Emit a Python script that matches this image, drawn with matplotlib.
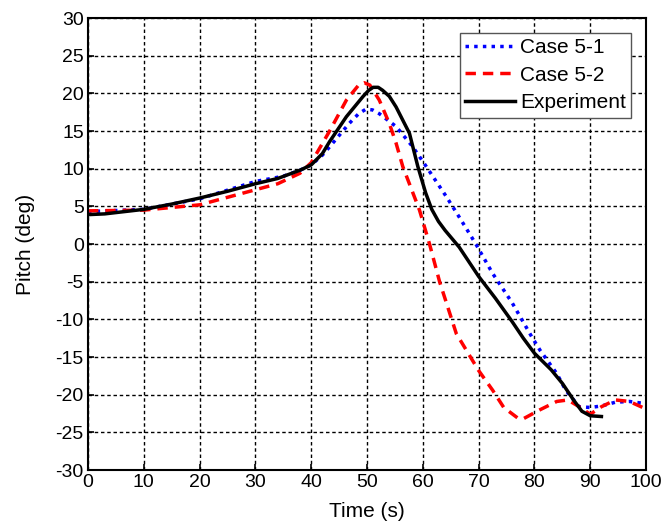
import matplotlib
matplotlib.use("Agg")
import matplotlib.pyplot as plt

plt.rcParams['font.family'] = ['Liberation Sans', 'DejaVu Sans']
plt.rcParams['axes.unicode_minus'] = False

# Experiment
exp_t = [0, 3, 10, 15, 20, 25, 30, 34, 38, 40, 42, 43.3, 46.3, 49.3, 50.3, 51.1, 52,
         52.8, 54, 55.2, 57.6, 59.1, 60.5, 61.6, 62.8, 64, 66.5, 70, 73, 76, 78, 80,
         83, 85, 87, 88.5, 90, 92]
exp_v = [3.9, 4.0, 4.6, 5.3, 6.1, 7.0, 8.0, 8.7, 9.8, 10.5, 12.0, 13.6, 16.9, 19.6,
         20.4, 20.8, 20.8, 20.4, 19.6, 18.2, 14.7, 10.3, 6.8, 4.6, 3.0, 1.8, -0.4,
         -4.3, -7.2, -10.3, -12.5, -14.5, -16.7, -18.5, -20.7, -22.2, -22.8, -22.9]

# Case 5-1
c1_t = [0, 10, 20, 30, 35, 38, 40, 42, 43.3, 46.8, 48.5, 49.8, 51, 52.2, 55.2, 58.2,
        60.6, 64.2, 66.5, 69.5, 72.5, 76, 79.5, 81, 84, 85.6, 88, 90, 92, 94.5, 97, 100]
c1_v = [4.3, 4.6, 6.0, 8.3, 9.0, 9.8, 10.5, 11.8, 12.9, 16.0, 17.3, 17.9, 17.8, 17.3,
        15.6, 12.9, 10.3, 6.3, 3.6, 0.0, -3.9, -7.8, -12.3, -14.1, -17.2, -19.4,
        -21.6, -21.7, -21.5, -21.0, -20.9, -21.2]

# Case 5-2
c2_t = [0, 10, 20, 30, 34, 38, 40, 43.3, 46.3, 48.5, 49.5, 50.5, 52.2, 54, 55.2, 56.4,
        59.4, 61.2, 63, 66, 70, 72.5, 74.5, 77, 78, 81, 84, 86, 88, 90, 92, 94.5, 97, 100]
c2_v = [4.4, 4.5, 5.2, 7.2, 8.0, 9.4, 10.8, 15.0, 19.1, 21.1, 21.4, 21.1, 19.1, 16.0,
        13.4, 10.3, 4.5, 0.0, -5.0, -11.9, -16.8, -19.4, -21.7, -23.1, -23.2, -22.0,
        -20.9, -20.7, -21.6, -22.6, -21.6, -20.7, -20.9, -21.9]

fig = plt.figure(figsize=(6.64, 5.30), dpi=100)
ax = fig.add_axes([0.1325, 0.1132, 0.8405, 0.8528])

ax.plot(c1_t, c1_v, color='blue', linestyle=(0, (1, 1.5)), linewidth=2.5, label='Case 5-1')
ax.plot(c2_t, c2_v, color='red', linestyle=(0, (3, 2)), linewidth=2.5, label='Case 5-2')
ax.plot(exp_t, exp_v, color='black', linestyle='-', linewidth=2.5, label='Experiment')

ax.set_xlim(0, 100)
ax.set_ylim(-30, 30)
ax.set_xticks(range(0, 101, 10))
ax.set_yticks(range(-30, 31, 5))
ax.tick_params(direction='in', length=4, width=1.2, labelsize=14, pad=3)
ax.grid(True, color='black', linestyle=(0, (2.5, 2)), linewidth=1.0)
for s in ax.spines.values():
    s.set_linewidth(1.5)

ax.set_xlabel('Time (s)', fontsize=15, labelpad=8)
ax.set_ylabel('Pitch (deg)', fontsize=15, labelpad=15)

leg = ax.legend(loc='upper right', fontsize=15, fancybox=False, framealpha=1,
                edgecolor='#555555', handlelength=2.4, handletextpad=0.25,
                borderpad=0.25, labelspacing=0.42, borderaxespad=0.7)
leg.get_frame().set_linewidth(1.0)

fig.savefig('out.png', dpi=100)
